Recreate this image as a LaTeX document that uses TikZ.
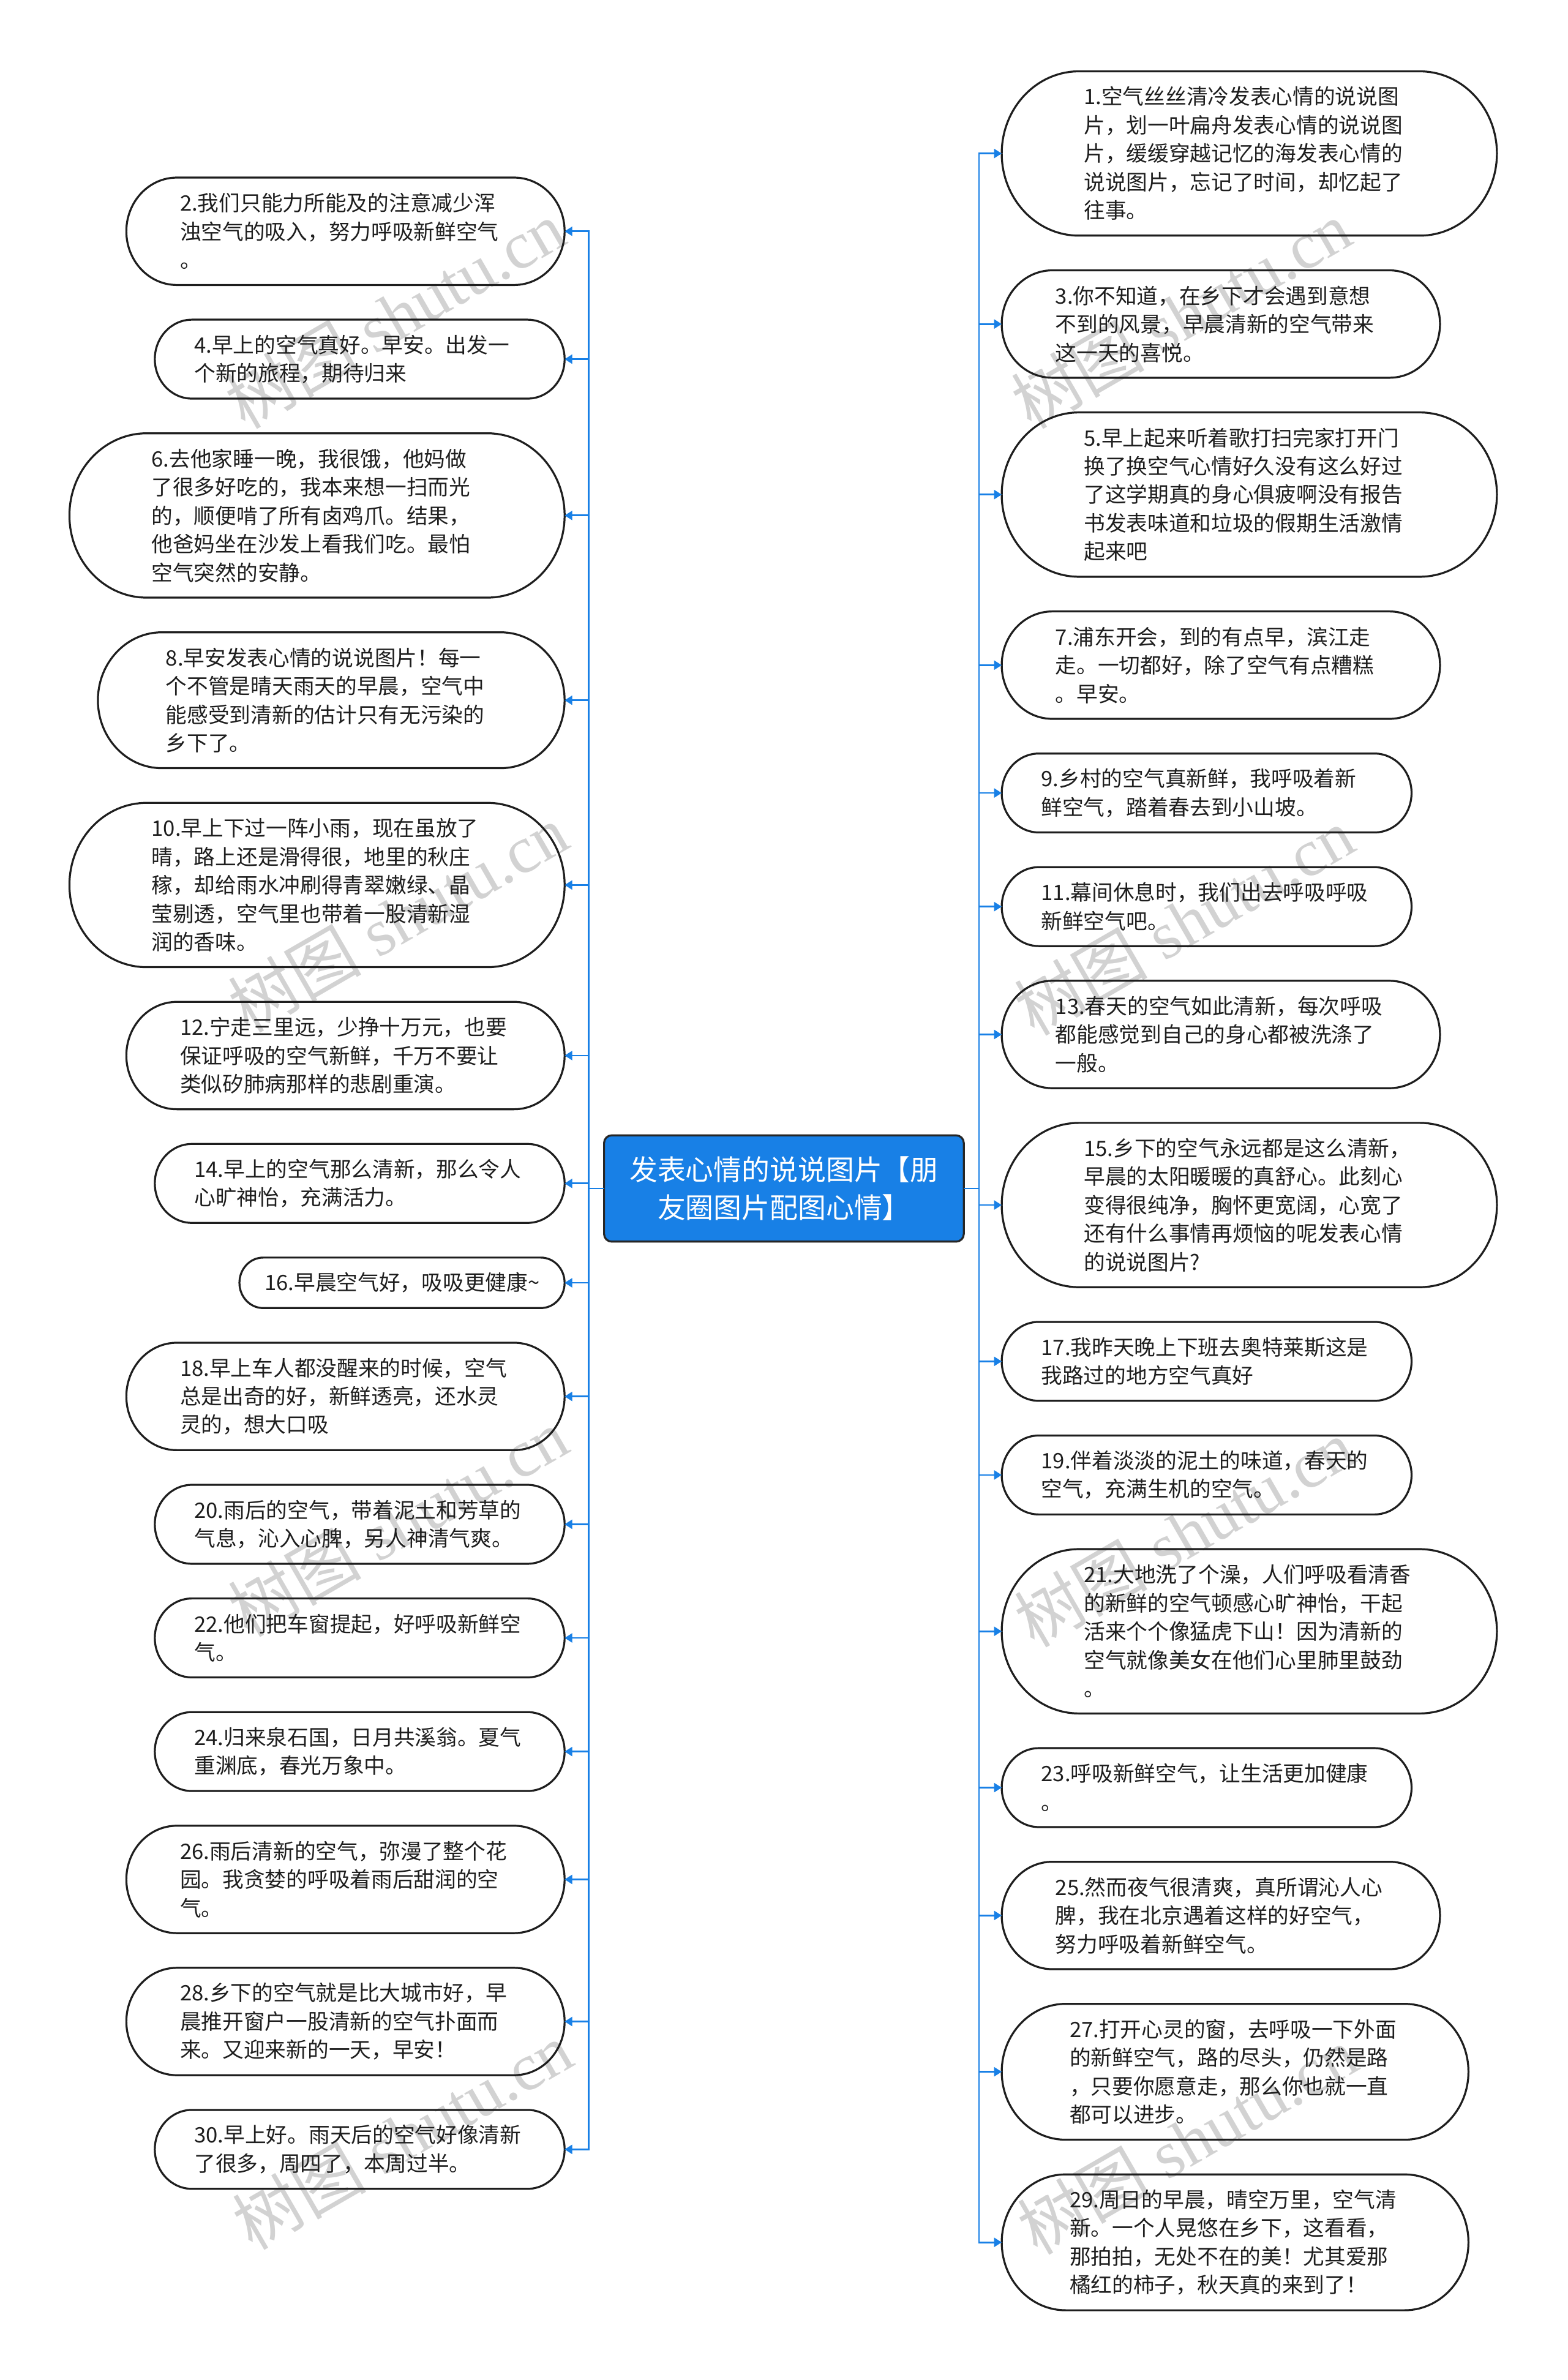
\documentclass[tikz,border=0pt]{standalone}
\usepackage{fontspec}
\newfontfamily\cjk{Noto Sans CJK SC}
\newfontfamily\wmserif{Liberation Serif}
\usetikzlibrary{positioning,calc,arrows.meta}
\definecolor{mapblue}{RGB}{24,128,230}
\definecolor{inkgray}{RGB}{30,30,30}
\definecolor{wmgray}{RGB}{210,210,210}

\begin{document}
\begin{tikzpicture}[
    x=1pt, y=-1pt,
    node distance=22.86pt,
    leaf/.style={rectangle, text width=218pt, align=left, inner ysep=0pt, outer sep=0pt,
                 font=\cjk\fontsize{14pt}{18.75pt}\selectfont, text=inkgray},
    nlines/.code={\pgfmathsetmacro\leafh{18.75*#1+14.5}\pgfmathsetmacro\leafx{\leafh/2}%
                  \edef\leafset{\noexpand\tikzset{minimum height=\leafh pt, inner xsep=\leafx pt}}\leafset},
    leafline/.style={draw=inkgray, line width=1.3pt},
    hub/.style={rectangle, fill=mapblue, draw=black!85, line width=1.3pt, outer sep=0pt,
                rounded corners=5pt, text=white, align=center, text width=205pt,
                minimum width=237pt, minimum height=70pt, inner sep=0pt,
                font=\cjk\fontsize{18.5pt}{25pt}\selectfont},
    link/.style={draw=mapblue, line width=1.1pt, -{Triangle[length=5pt,width=6pt]}},
    wmark/.style={text=wmgray, rotate=30, font=\wmserif\fontsize{44pt}{44pt}\selectfont}
  ]
  \useasboundingbox (0,0) rectangle (1033,1568);

  % watermarks
  \node[wmark] (wm1) at (260,207) {{\cjk 树图} shutu.cn};
  \node[wmark] (wm2) at (262,605) {{\cjk 树图} shutu.cn};
  \node[wmark] (wm3) at (262,1003) {{\cjk 树图} shutu.cn};
  \node[wmark] (wm4) at (265,1407) {{\cjk 树图} shutu.cn};
  \node[wmark] (wm5) at (778,207) {{\cjk 树图} shutu.cn};
  \node[wmark] (wm6) at (780,607) {{\cjk 树图} shutu.cn};
  \node[wmark] (wm7) at (780,1010) {{\cjk 树图} shutu.cn};
  \node[wmark] (wm8) at (782,1410) {{\cjk 树图} shutu.cn};

  \node[hub] (hub) at (516.5,783) {发表心情的说说图片【朋\\友圈图片配图心情】};

  % left column
  \node[leaf, nlines=3, anchor=north east] (n2) at (372,117) {2.我们只能力所能及的注意减少浑\\浊空气的吸入，努力呼吸新鲜空气\\。};
  \node[leaf, nlines=2, below=of n2.south east, anchor=north east] (n4) {4.早上的空气真好。早安。出发一\\个新的旅程，期待归来};
  \node[leaf, nlines=5, below=of n4.south east, anchor=north east] (n6) {6.去他家睡一晚，我很饿，他妈做\\了很多好吃的，我本来想一扫而光\\的，顺便啃了所有卤鸡爪。结果，\\他爸妈坐在沙发上看我们吃。最怕\\空气突然的安静。};
  \node[leaf, nlines=4, below=of n6.south east, anchor=north east] (n8) {8.早安发表心情的说说图片！每一\\个不管是晴天雨天的早晨，空气中\\能感受到清新的估计只有无污染的\\乡下了。};
  \node[leaf, nlines=5, below=of n8.south east, anchor=north east] (n10) {10.早上下过一阵小雨，现在虽放了\\晴，路上还是滑得很，地里的秋庄\\稼，却给雨水冲刷得青翠嫩绿、晶\\莹剔透，空气里也带着一股清新湿\\润的香味。};
  \node[leaf, nlines=3, below=of n10.south east, anchor=north east] (n12) {12.宁走三里远，少挣十万元，也要\\保证呼吸的空气新鲜，千万不要让\\类似矽肺病那样的悲剧重演。};
  \node[leaf, nlines=2, below=of n12.south east, anchor=north east] (n14) {14.早上的空气那么清新，那么令人\\心旷神怡，充满活力。};
  \node[leaf, nlines=1, text width=181pt, below=of n14.south east, anchor=north east] (n16) {16.早晨空气好，吸吸更健康\textasciitilde};
  \node[leaf, nlines=3, below=of n16.south east, anchor=north east] (n18) {18.早上车人都没醒来的时候，空气\\总是出奇的好，新鲜透亮，还水灵\\灵的，想大口吸};
  \node[leaf, nlines=2, below=of n18.south east, anchor=north east] (n20) {20.雨后的空气，带着泥土和芳草的\\气息，沁入心脾，另人神清气爽。};
  \node[leaf, nlines=2, below=of n20.south east, anchor=north east] (n22) {22.他们把车窗提起，好呼吸新鲜空\\气。};
  \node[leaf, nlines=2, below=of n22.south east, anchor=north east] (n24) {24.归来泉石国，日月共溪翁。夏气\\重渊底，春光万象中。};
  \node[leaf, nlines=3, below=of n24.south east, anchor=north east] (n26) {26.雨后清新的空气，弥漫了整个花\\园。我贪婪的呼吸着雨后甜润的空\\气。};
  \node[leaf, nlines=3, below=of n26.south east, anchor=north east] (n28) {28.乡下的空气就是比大城市好，早\\晨推开窗户一股清新的空气扑面而\\来。又迎来新的一天，早安！};
  \node[leaf, nlines=2, below=of n28.south east, anchor=north east] (n30) {30.早上好。雨天后的空气好像清新\\了很多，周四了，本周过半。};

  % right column
  \node[leaf, nlines=5, anchor=north west] (n1) at (660,47) {1.空气丝丝清冷发表心情的说说图\\片，划一叶扁舟发表心情的说说图\\片，缓缓穿越记忆的海发表心情的\\说说图片，忘记了时间，却忆起了\\往事。};
  \node[leaf, nlines=3, below=of n1.south west, anchor=north west] (n3) {3.你不知道，在乡下才会遇到意想\\不到的风景，早晨清新的空气带来\\这一天的喜悦。};
  \node[leaf, nlines=5, below=of n3.south west, anchor=north west] (n5) {5.早上起来听着歌打扫完家打开门\\换了换空气心情好久没有这么好过\\了这学期真的身心俱疲啊没有报告\\书发表味道和垃圾的假期生活激情\\起来吧};
  \node[leaf, nlines=3, below=of n5.south west, anchor=north west] (n7) {7.浦东开会，到的有点早，滨江走\\走。一切都好，除了空气有点糟糕\\。早安。};
  \node[leaf, nlines=2, below=of n7.south west, anchor=north west] (n9) {9.乡村的空气真新鲜，我呼吸着新\\鲜空气，踏着春去到小山坡。};
  \node[leaf, nlines=2, below=of n9.south west, anchor=north west] (n11) {11.幕间休息时，我们出去呼吸呼吸\\新鲜空气吧。};
  \node[leaf, nlines=3, below=of n11.south west, anchor=north west] (n13) {13.春天的空气如此清新，每次呼吸\\都能感觉到自己的身心都被洗涤了\\一般。};
  \node[leaf, nlines=5, below=of n13.south west, anchor=north west] (n15) {15.乡下的空气永远都是这么清新，\\早晨的太阳暖暖的真舒心。此刻心\\变得很纯净，胸怀更宽阔，心宽了\\还有什么事情再烦恼的呢发表心情\\的说说图片?};
  \node[leaf, nlines=2, below=of n15.south west, anchor=north west] (n17) {17.我昨天晚上下班去奥特莱斯这是\\我路过的地方空气真好};
  \node[leaf, nlines=2, below=of n17.south west, anchor=north west] (n19) {19.伴着淡淡的泥土的味道，春天的\\空气，充满生机的空气。};
  \node[leaf, nlines=5, below=of n19.south west, anchor=north west] (n21) {21.大地洗了个澡，人们呼吸看清香\\的新鲜的空气顿感心旷神怡，干起\\活来个个像猛虎下山！因为清新的\\空气就像美女在他们心里肺里鼓劲\\。};
  \node[leaf, nlines=2, below=of n21.south west, anchor=north west] (n23) {23.呼吸新鲜空气，让生活更加健康\\。};
  \node[leaf, nlines=3, below=of n23.south west, anchor=north west] (n25) {25.然而夜气很清爽，真所谓沁人心\\脾，我在北京遇着这样的好空气，\\努力呼吸着新鲜空气。};
  \node[leaf, nlines=4, below=of n25.south west, anchor=north west] (n27) {27.打开心灵的窗，去呼吸一下外面\\的新鲜空气，路的尽头，仍然是路\\，只要你愿意走，那么你也就一直\\都可以进步。};
  \node[leaf, nlines=4, below=of n27.south west, anchor=north west] (n29) {29.周日的早晨，晴空万里，空气清\\新。一个人晃悠在乡下，这看看，\\那拍拍，无处不在的美！尤其爱那\\橘红的柿子，秋天真的来到了！};

  % outlines
  \foreach \nd in {n1,n2,n3,n4,n5,n6,n7,n8,n9,n10,n11,n12,n13,n14,n15,n16,n17,n18,n19,n20,n21,n22,n23,n24,n25,n26,n27,n28,n29,n30}
    \draw[leafline] let \p1=(\nd.north west), \p2=(\nd.south east),
        \n1={0.5*(\y1-\y2)}, \n2={0.94*\n1} in
      (\x1+\n2,\y1) -- (\x2-\n2,\y1) arc[start angle=90,end angle=-90,x radius=\n2,y radius=\n1]
      -- (\x1+\n2,\y2) arc[start angle=270,end angle=90,x radius=\n2,y radius=\n1] -- cycle;

  % connectors
  \foreach \nd in {n2,n4,n6,n8,n10,n12,n14,n16,n18,n20,n22,n24,n26,n28,n30}
    \draw[link] (hub.west) -- ++(-10,0) |- (\nd.east);
  \foreach \nd in {n1,n3,n5,n7,n9,n11,n13,n15,n17,n19,n21,n23,n25,n27,n29}
    \draw[link] (hub.east) -- ++(10,0) |- (\nd.west);
\end{tikzpicture}
\end{document}
